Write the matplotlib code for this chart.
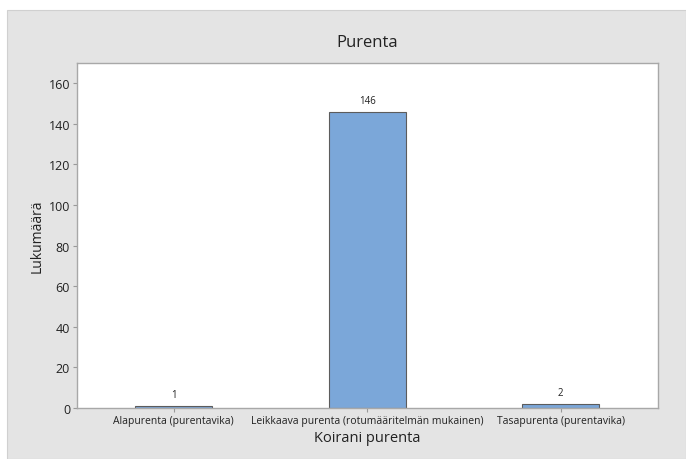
import matplotlib
matplotlib.use("Agg")
import matplotlib.pyplot as plt
from matplotlib.patches import Rectangle

# ---------- data ----------
categories = ["Alapurenta (purentavika)",
              "Leikkaava purenta (rotumääritelmän mukainen)",
              "Tasapurenta (purentavika)"]
counts = [1, 146, 2]
yticks = [0, 20, 40, 60, 80, 100, 120, 140, 160]

plt.rcParams["font.family"] = ["Open Sans", "DejaVu Sans"]

W, H = 686, 460
fig = plt.figure(figsize=(W / 100, H / 100), dpi=100, facecolor="white")

# gray background panel (Minitab style)
panel = Rectangle((7 / W, 0), 1 - 7 / W, 1 - 11 / H, transform=fig.transFigure,
                  facecolor="#e4e4e4", edgecolor="#d0d0d0", linewidth=0.8, zorder=-5)
fig.patches.append(panel)

ax = fig.add_axes([77 / W, (H - 409) / H, (657.5 - 77) / W, (409 - 64) / H])
ax.set_facecolor("white")

x = range(len(categories))
bars = ax.bar(x, counts, width=0.4, color="#7ba7d9", edgecolor="#5c5c5c", linewidth=0.8)
for b, v in zip(bars, counts):
    ax.annotate(str(v), (b.get_x() + b.get_width() / 2, v), xytext=(0, 4),
                textcoords="offset points", ha="center", va="bottom", fontsize=7, color="#222222")

ax.set_xlim(-0.5, len(categories) - 0.5)
ax.set_ylim(0, 170)
ax.set_yticks(yticks)
ax.set_xticks(list(x))
ax.set_xticklabels(categories, fontsize=7.5, color="#222222")
ax.tick_params(axis="y", labelsize=9, colors="#999999", labelcolor="#222222", length=3, width=0.8, pad=2)
ax.tick_params(axis="x", colors="#999999", labelcolor="#222222", length=3, width=0.8, pad=2)

for s in ax.spines.values():
    s.set_color("#a8a8a8")
    s.set_linewidth(1.0)

ax.set_ylabel("Lukumäärä", fontsize=10, color="#222222", labelpad=3)
ax.set_xlabel("Koirani purenta", fontsize=10.5, color="#222222", labelpad=3)
fig.text((77 + 657.5) / 2 / W, (H - 43) / H, "Purenta", ha="center", va="center",
         fontsize=12, color="#222222")

fig.savefig("out.png", dpi=100)
